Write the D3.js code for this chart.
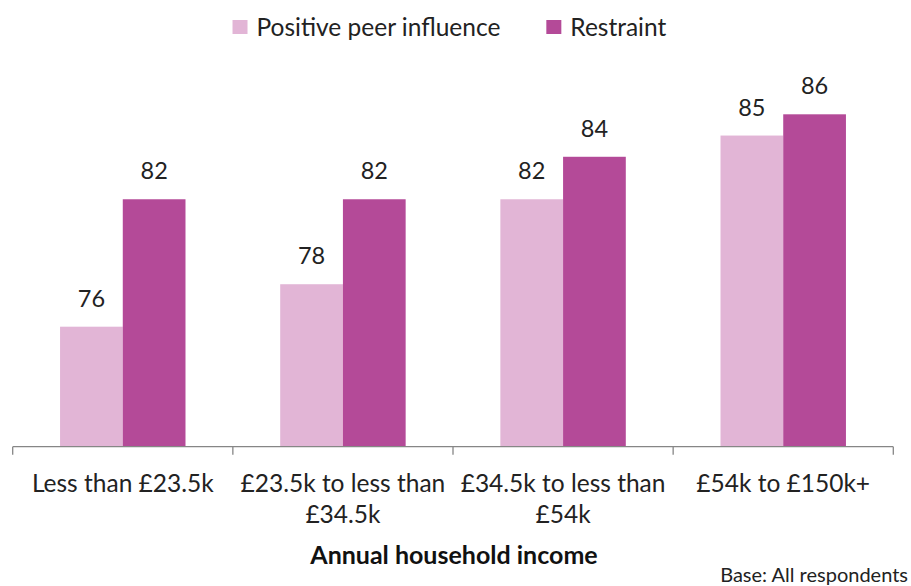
<!DOCTYPE html>
<html>
<head>
<meta charset="utf-8">
<script src="https://cdn.jsdelivr.net/npm/d3@7"></script>
<style>
  html, body { margin: 0; padding: 0; background: #fff; }
  svg { display: block; font-family: Lato, "Open Sans", sans-serif; }
</style>
</head>
<body>
<svg id="chart" width="911" height="586"></svg>
<script>
// Income bands shown along the x axis (line breaks marked with "|")
const categories = [
  "Less than £23.5k",
  "£23.5k to less than|£34.5k",
  "£34.5k to less than|£54k",
  "£54k to £150k+"
];
const seriesNames = ["Positive peer influence", "Restraint"];
const positivePeer = [76, 78, 82, 85];
const restraint = [82, 82, 84, 86];
const seriesColors = ["#E2B5D6", "#B44A98"];
const xTitle = "Annual household income";
const baseNote = "Base: All respondents";

const rows = categories.map((c, i) => ({
  category: c,
  values: [positivePeer[i], restraint[i]]
}));

const svg = d3.select("#chart");
const plot = { left: 12.7, right: 893.3, top: 30, bottom: 446.7 };

const x0 = d3.scaleBand()
  .domain(categories)
  .range([plot.left, plot.right])
  .padding(0);

const x1 = d3.scaleBand()
  .domain(seriesNames)
  .range([0, x0.bandwidth()])
  .paddingInner(0)
  .paddingOuter(0.755);

const y = d3.scaleLinear()
  .domain([70.35, 86])
  .range([plot.bottom, 114.3]);

const color = d3.scaleOrdinal().domain(seriesNames).range(seriesColors);

// Bars
const groups = svg.append("g")
  .selectAll("g")
  .data(rows)
  .join("g")
  .attr("transform", d => `translate(${x0(d.category)},0)`);

groups.selectAll("rect")
  .data(d => d.values.map((v, j) => ({ key: seriesNames[j], value: v })))
  .join("rect")
  .attr("x", d => x1(d.key))
  .attr("y", d => y(d.value))
  .attr("width", x1.bandwidth())
  .attr("height", d => plot.bottom - y(d.value))
  .attr("fill", d => color(d.key));

// Value labels above each bar
groups.selectAll("text.value")
  .data(d => d.values.map((v, j) => ({ key: seriesNames[j], value: v })))
  .join("text")
  .attr("class", "value")
  .attr("x", d => x1(d.key) + x1.bandwidth() / 2)
  .attr("y", d => y(d.value) - 20)
  .attr("text-anchor", "middle")
  .attr("font-size", 23.5)
  .attr("fill", "#222")
  .text(d => d.value);

// X axis with ticks at category boundaries
const axisG = svg.append("g").attr("transform", `translate(0,${plot.bottom})`);
axisG.append("line")
  .attr("x1", plot.left).attr("x2", plot.right)
  .attr("y1", 0).attr("y2", 0)
  .attr("stroke", "#868686").attr("stroke-width", 1.3);
const boundaries = categories.map(c => x0(c)).concat([x0(categories[categories.length - 1]) + x0.bandwidth()]);
axisG.selectAll("line.tick")
  .data(boundaries)
  .join("line")
  .attr("class", "tick")
  .attr("x1", d => d).attr("x2", d => d)
  .attr("y1", 0).attr("y2", 8)
  .attr("stroke", "#868686").attr("stroke-width", 1.3);

// Category labels (wrapped onto two lines where needed)
const catLabels = svg.append("g")
  .selectAll("text")
  .data(categories)
  .join("text")
  .attr("x", d => x0(d) + x0.bandwidth() / 2)
  .attr("y", 491.5)
  .attr("text-anchor", "middle")
  .attr("font-size", 24.5)
  .attr("fill", "#222");
catLabels.each(function(d) {
  const parts = d.split("|");
  const t = d3.select(this);
  parts.forEach((p, k) => {
    t.append("tspan")
      .attr("x", x0(d) + x0.bandwidth() / 2)
      .attr("dy", k === 0 ? 0 : 31.8)
      .text(p);
  });
});

// Axis title
svg.append("text")
  .attr("x", (plot.left + plot.right) / 2 + 1)
  .attr("y", 564)
  .attr("text-anchor", "middle")
  .attr("font-size", 25)
  .attr("font-weight", "bold")
  .attr("fill", "#111")
  .text(xTitle);

// Base note, bottom right
svg.append("text")
  .attr("x", 908)
  .attr("y", 581.5)
  .attr("text-anchor", "end")
  .attr("font-size", 20)
  .attr("fill", "#222")
  .text(baseNote);

// Legend, centred above the plot
const legendGap = 46;
const legend = svg.append("g");
const items = legend.selectAll("g")
  .data(seriesNames)
  .join("g");
items.append("rect")
  .attr("width", 15).attr("height", 14)
  .attr("y", 20)
  .attr("fill", d => color(d));
items.append("text")
  .attr("x", 24)
  .attr("y", 35.5)
  .attr("font-size", 24.5)
  .attr("fill", "#222")
  .text(d => d);
let offset = 0;
items.each(function() {
  d3.select(this).attr("transform", `translate(${offset},0)`);
  offset += this.getBBox().width + legendGap;
});
const legendWidth = offset - legendGap;
legend.attr("transform", `translate(${449.5 - legendWidth / 2},0)`);
</script>
</body>
</html>
